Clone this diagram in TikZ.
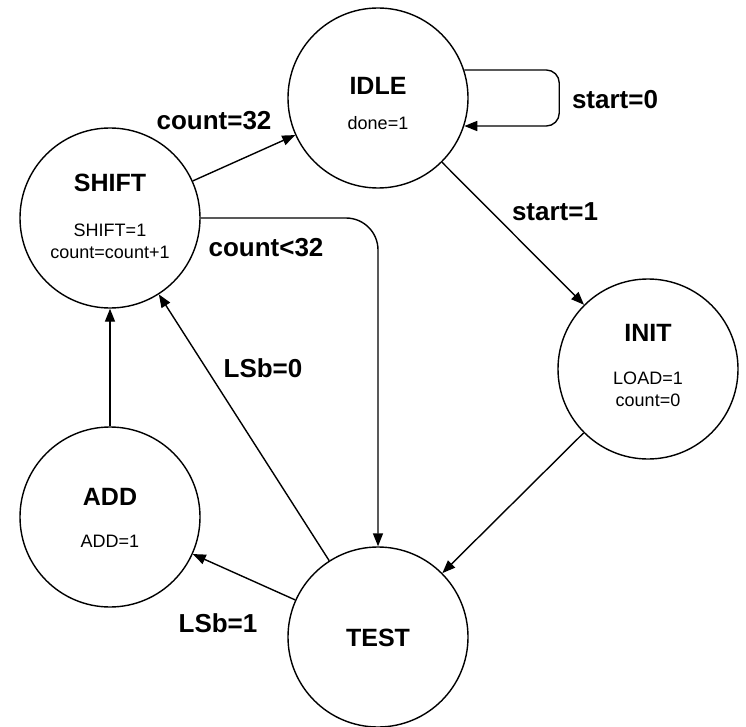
\documentclass[tikz,border=0pt]{standalone}
\usepackage{fontspec}
\setmainfont{Liberation Sans}
\usetikzlibrary{arrows.meta}
\tikzset{
    state/.style={circle, draw, line width=1.4pt, minimum size=180pt,
                  inner sep=0pt},
    title/.style={font=\fontsize{25}{30}\selectfont\bfseries},
    output/.style={font=\fontsize{18}{22}\selectfont, align=center},
    cond/.style={font=\fontsize{26}{30}\selectfont\bfseries},
    flow/.style={-{Triangle[length=13pt, width=10pt]}, line width=1.4pt},
    bend flow/.style={flow, rounded corners=32pt},
    loop flow/.style={flow, rounded corners=13pt},
}

\begin{document}
\begin{tikzpicture}[x=1pt, y=-1pt]
    \path[use as bounding box] (0,0) rectangle (746,727);

    % states
    \node[state] (idle) at (378,98) {};
    \node[title] (idle-name) at (378,86) {IDLE};
    \node[output] (idle-out) at (378,123) {done=1};

    \node[state] (shift) at (110,218) {};
    \node[title] (shift-name) at (110,183) {SHIFT};
    \node[output] (shift-out) at (110,241) {SHIFT=1\\count=count+1};

    \node[state] (init) at (648,369) {};
    \node[title] (init-name) at (648,333) {INIT};
    \node[output] (init-out) at (648,389) {LOAD=1\\count=0};

    \node[state] (add) at (110,517) {};
    \node[title] (add-name) at (110,497) {ADD};
    \node[output] (add-out) at (110,541) {ADD=1};

    \node[state] (test) at (378,637) {};
    \node[title] (test-name) at (378,638) {TEST};

    % transitions
    \draw[loop flow] (idle.18) -- ++(95,0) |- (idle.-18);
    \draw[flow] (idle) -- (init);
    \draw[flow] (init) -- (test);
    \draw[flow] (shift) -- (idle);
    \draw[bend flow] (shift.east) -| (test.north);
    \draw[flow] (test) -- (shift);
    \draw[flow] (test) -- (add);
    \draw[flow] (add) -- (shift);

    % conditions
    \node[cond] (c-start0) at (615,100) {start=0};
    \node[cond] (c-start1) at (555,212) {start=1};
    \node[cond] (c-eq32) at (214,121) {count=32};
    \node[cond] (c-lt32) at (266,248) {count<32};
    \node[cond] (c-lsb0) at (263,368) {LSb=0};
    \node[cond] (c-lsb1) at (218,623) {LSb=1};
\end{tikzpicture}
\end{document}
